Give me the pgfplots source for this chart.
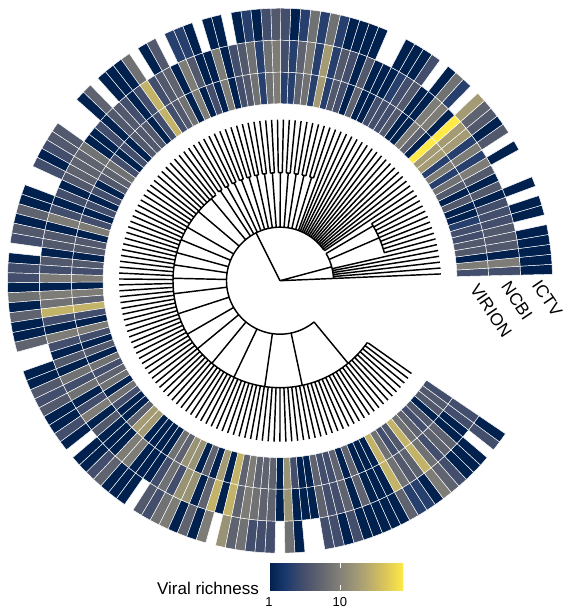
\documentclass[border=0pt]{standalone}
\usepackage{fontspec}
\setmainfont{Liberation Sans}
\usepackage{pgfplots}
\pgfplotsset{compat=1.18}
% richness per tip, tip 1 at the lower right, counterclockwise; 0 = no data
\def\ICTV{1,1,1,1,1,0,1,1,0,1,
0,0,0,1,0,4,1,4,5,18,
0,2,7,1,0,3,1,1,1,0,
0,1,1,1,1,2,7,2,7,2,
1,3,4,3,1,2,1,0,1,1,
0,1,2,2,0,4,1,0,7,1,
1,1,0,5,1,0,0,0,4,4,
3,1,3,0,0,1,1,5,1,4,
3,0,1,3,3,1,7,1,5,1,
1,5,0,0,1,1,4,3,4,1,
1,3,1,0,1,1,3,5,1,1,
1,0,4,3,7,9,1,5,1,9,
0,15,5,7,3,3,3,0,7,1,
0,0,3,3,1,3,1,1,1,1,
1,5,2,2,1,9,5,3,1,1,
1,0,3,1}
\def\NCBI{3,9,1,4,4,4,3,3,3,1,
4,1,4,9,2,9,2,18,18,80,
1,9,9,1,1,4,3,2,1,1,
1,4,1,3,4,2,18,2,9,5,
2,3,9,7,2,7,4,3,1,9,
1,1,4,9,1,5,4,3,30,3,
1,3,4,4,1,3,1,1,7,5,
5,5,4,1,3,1,3,9,1,4,
4,1,4,3,9,1,9,7,30,3,
1,9,3,1,4,1,7,3,7,1,
3,9,1,4,1,1,1,9,9,1,
1,1,3,7,3,15,15,1,5,30,
1,30,5,9,7,5,5,1,15,1,
1,1,5,3,3,5,1,5,1,1,
1,30,7,4,5,30,7,3,5,5,
1,1,3,3}
\def\VIRION{3,9,1,4,4,3,3,2,1,1,
4,1,4,7,2,9,2,18,18,80,
1,5,9,1,1,4,3,3,3,1,
1,5,1,3,4,2,18,2,7,5,
2,2,9,7,2,7,4,3,1,9,
1,3,1,9,1,7,4,3,30,3,
1,4,4,4,1,3,1,3,7,5,
4,1,3,1,3,1,3,9,1,4,
4,1,4,3,9,1,9,5,30,3,
1,9,3,1,4,1,7,3,5,7,
1,7,3,1,1,5,18,18,1,1,
1,1,7,5,15,15,1,5,1,18,
1,30,5,9,5,5,5,1,15,3,
1,1,5,3,3,5,1,5,1,1,
1,30,7,3,4,30,7,5,3,4,
1,4,4,3}
\gdef\tiles{}
\gdef\treepts{}
\newcommand\addring[3]{%
 \foreach \v [count=\k] in #1 {%
  \ifnum\v>0
   \pgfmathsetmacro\angA{2.4+2.107*(\k-1)-1.0535}%
   \pgfmathsetmacro\angB{\angA+2.107}%
   \pgfmathsetmacro\m{log10(\v)}%
   \pgfmathsetmacro\xa{280+#2*cos(\angA)}\pgfmathsetmacro\ya{331.3+#2*sin(\angA)}%
   \pgfmathsetmacro\xb{280+#3*cos(\angA)}\pgfmathsetmacro\yb{331.3+#3*sin(\angA)}%
   \pgfmathsetmacro\xc{280+#3*cos(\angB)}\pgfmathsetmacro\yc{331.3+#3*sin(\angB)}%
   \pgfmathsetmacro\xd{280+#2*cos(\angB)}\pgfmathsetmacro\yd{331.3+#2*sin(\angB)}%
   \xdef\tiles{\tiles (\xa,\ya) [\m] (\xb,\yb) [\m] (\xc,\yc) [\m] (\xd,\yd) [\m]}%
  \fi}}
\newcommand\addseg[3]{% r1 r2 angle
 \pgfmathsetmacro\xa{280+#1*cos(#3)}\pgfmathsetmacro\ya{331.3+#1*sin(#3)}%
 \pgfmathsetmacro\xb{280+#2*cos(#3)}\pgfmathsetmacro\yb{331.3+#2*sin(#3)}%
 \xdef\treepts{\treepts (\xa,\ya) (\xb,\yb) (nan,nan)}}
\newcommand\addarc[3]{% r a1 a2
 \pgfmathsetmacro\nsteps{int(ceil(abs(#3-#2)/2))}%
 \pgfmathsetmacro\stepang{(#3-#2)/\nsteps}%
 \foreach \i in {0,...,\nsteps}{%
  \pgfmathsetmacro\ang{#2+\stepang*\i}%
  \pgfmathsetmacro\xa{280+#1*cos(\ang)}\pgfmathsetmacro\ya{331.3+#1*sin(\ang)}%
  \xdef\treepts{\treepts (\xa,\ya)}}%
 \xdef\treepts{\treepts (nan,nan)}}
\addring{\ICTV}{240.5}{272.5}
\addring{\NCBI}{208.5}{240.5}
\addring{\VIRION}{177}{208.5}
% tree
\foreach \k in {1,...,154}{%
 \pgfmathsetmacro\ang{2.4+2.107*(\k-1)}%
 \ifnum\k<7 \def\rs{53.5}\else\ifnum\k<16 \def\rs{108}\else\ifnum\k<34 \def\rs{53.5}\else \def\rs{108}\fi\fi\fi
 \addseg{\rs}{161}{\ang}}
\addseg{0}{53.5}{116.6}
\addseg{0}{53.5}{15}
\addseg{0}{53.5}{2.4}
\addarc{53.5}{2.4}{30.5}
\addarc{53.5}{34.9}{309.5}
\addseg{53.5}{108}{30.5}
\addseg{53.5}{108}{23.4}
\addarc{108}{15}{32}
\foreach \k in {34,36,...,58}{%
 \pgfmathsetmacro\angA{2.4+2.107*(\k-1)}%
 \pgfmathsetmacro\angB{\angA+2.107}%
 \pgfmathsetmacro\angM{\angA+1.0535}%
 \addseg{53.5}{108}{\angM}%
 \addarc{108}{\angA}{\angB}}
\foreach \a in {130,139.7,150,157.5,164.8,171.5,178.7,187,198,210,219.5,230.5,244.5,261.8,282,309.5}{\addseg{53.5}{107}{\a}}
\addarc{107}{126.7}{324.8}
\begin{document}
\begin{tikzpicture}
\path[use as bounding box] (0,0) rectangle (564pt,612pt);
\begin{axis}[
 at={(0,0)},anchor=south west,
 width=564pt,height=612pt,scale only axis,
 xmin=0,xmax=564,ymin=0,ymax=612,
 hide axis,clip=false,
 colormap={civ}{rgb255=(0,32,77) rgb255=(24,55,108) rgb255=(59,73,108) rgb255=(87,92,109) rgb255=(112,113,115) rgb255=(138,134,120) rgb255=(165,156,116) rgb255=(195,179,105) rgb255=(225,204,85) rgb255=(255,234,70)},
 point meta min=0,point meta max=1.9,
 colorbar horizontal,
 colorbar/width=26.7pt,
 colorbar style={
  at={(269/564,22/612)},anchor=south west,
  width=134.5pt,height=26.7pt,scale only axis,
  xtick={0,1},xticklabels={1,10},
  axis line style={draw=none},
  xtick style={draw=white,line width=0.5pt},
  major tick length=5pt,tick align=inside,
  xticklabel style={font=\fontsize{13}{15}\selectfont,inner sep=1pt,yshift=-6pt},
  ytick=\empty,
 },
]
\edef\temp{\noexpand\addplot[patch,patch type=rectangle,shader=faceted,faceted color=white,line width=0.45pt,point meta=explicit,forget plot] coordinates {\tiles};}
\temp
\edef\temp{\noexpand\addplot[black,line width=1.45pt,unbounded coords=jump,no markers,forget plot] coordinates {\treepts};}
\temp
\node[rotate=-56,font=\fontsize{17.3}{20}\selectfont] at (axis cs:547.3,313.7) {ICTV};
\node[rotate=-56,font=\fontsize{17.3}{20}\selectfont] at (axis cs:517,311.3) {NCBI};
\node[rotate=-56,font=\fontsize{17.3}{20}\selectfont] at (axis cs:491,301.3) {VIRION};
\node[font=\fontsize{17}{20}\selectfont] at (axis cs:208,24) {Viral richness};
\end{axis}
\end{tikzpicture}
\end{document}
